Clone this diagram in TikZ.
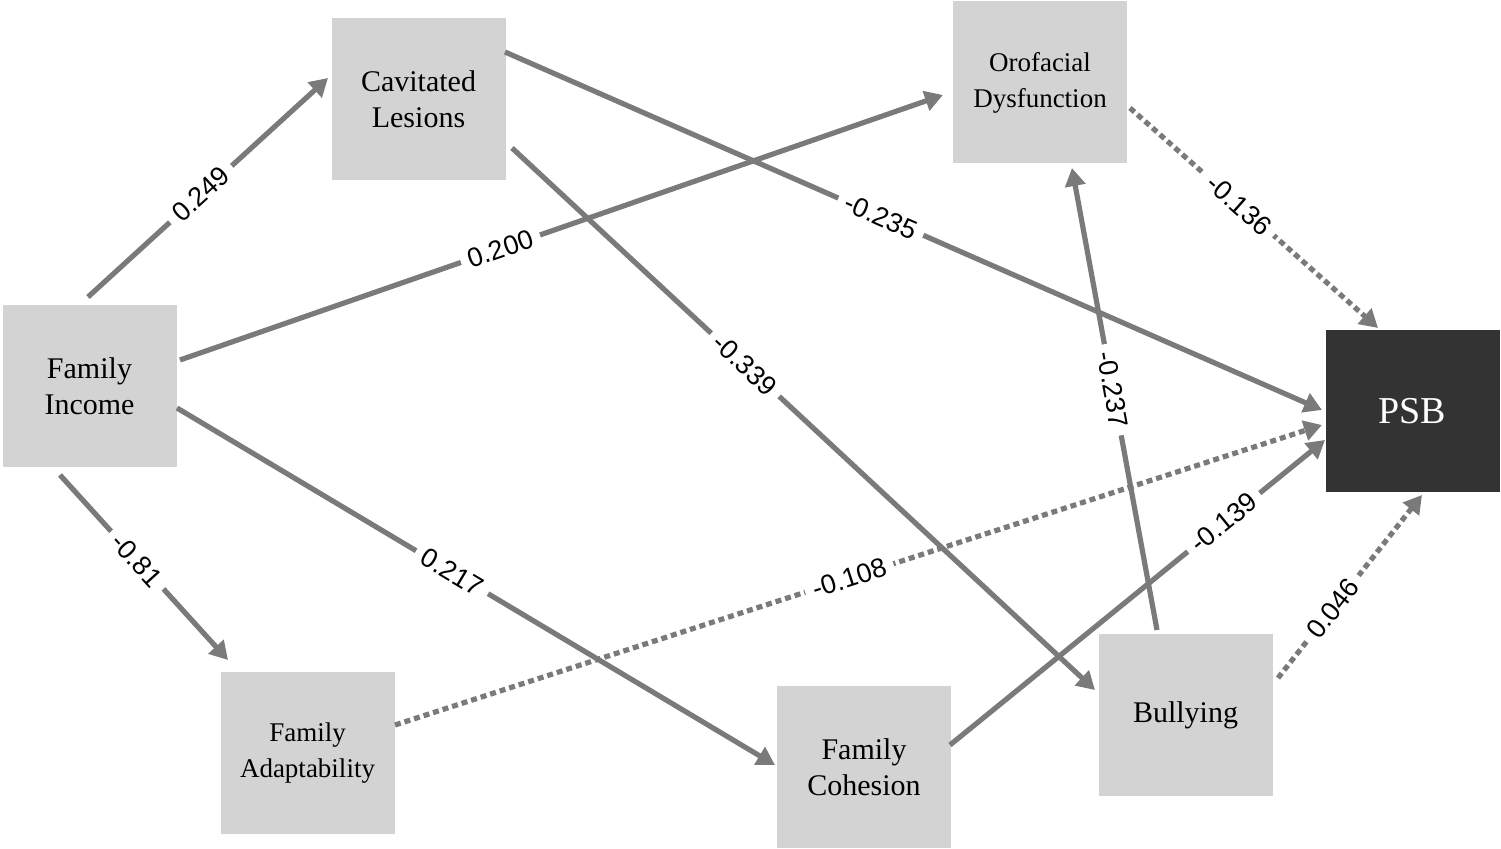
\documentclass[tikz,border=0pt]{standalone}
\usepackage{fontspec}
\setmainfont{Liberation Serif}
\newfontfamily\lab{Liberation Sans}
\usetikzlibrary{arrows.meta}
\definecolor{boxg}{HTML}{D3D3D3}
\definecolor{lineg}{HTML}{7A7A7A}
\begin{document}
\begin{tikzpicture}[x=0.5pt,y=-0.5pt,
  box/.style={fill=boxg,draw=none,minimum width=87pt,minimum height=81pt,align=center,font=\fontsize{15}{18}\selectfont,inner sep=0pt},
  arr/.style={draw=lineg,line width=2.6pt,-{Triangle[length=9pt,width=10pt]}},
  dot/.style={arr,dash pattern=on 3pt off 2pt},
  lbl/.style={fill=white,sloped,inner sep=4pt,font=\lab\fontsize{13.5}{14}\selectfont,text=black}]
\useasboundingbox (0,0) rectangle (1501,849);
\node[box] (cav) at (418.5,99) {Cavitated\\Lesions};
\node[box] (oro) at (1040,82.5) {\fontsize{13.5}{15}\selectfont Orofacial\\\fontsize{13.5}{15}\selectfont Dysfunction};
\node[box] (inc) at (89.5,386) {Family\\Income};
\node[box,fill=black!80,text=white,font=\fontsize{19}{20}\selectfont] (psb) at (1412.5,411) {PSB};
\node[box] (ada) at (307.5,753.5) {\fontsize{13.5}{15}\selectfont Family\\\fontsize{13.5}{15}\selectfont Adaptability};
\node[box] (coh) at (864,767) {Family\\Cohesion};
\node[box] (bul) at (1185.5,715) {Bullying};
\coordinate (a1) at (88,297); \coordinate (b1) at (328,78);
\coordinate (a2) at (180,360); \coordinate (b2) at (943,95);
\coordinate (a3) at (505,52); \coordinate (b3) at (1322,410);
\coordinate (a4) at (512,148); \coordinate (b4) at (1095,690);
\coordinate (a5) at (177,408); \coordinate (b5) at (775,765);
\coordinate (a6) at (60,475); \coordinate (b6) at (228,660);
\coordinate (a7) at (395,725); \coordinate (b7) at (1322,425);
\coordinate (a8) at (950,745); \coordinate (b8) at (1325,440);
\coordinate (a9) at (1157,630); \coordinate (b9) at (1072,168);
\coordinate (a10) at (1130,108); \coordinate (b10) at (1378,328);
\coordinate (a11) at (1278,678); \coordinate (b11) at (1422,495);
\draw[arr] (a1) -- node[lbl,pos=.47]{0.249} (b1);
\draw[arr] (a2) -- node[lbl,pos=.42]{0.200} (b2);
\draw[arr] (a3) -- node[lbl,pos=.46]{-0.235} (b3);
\draw[arr] (a4) -- node[lbl,pos=.40]{-0.339} (b4);
\draw[arr] (a5) -- node[lbl,pos=.46]{0.217} (b5);
\draw[arr] (a6) -- node[lbl,pos=.46]{-0.81} (b6);
\draw[dot] (a7) -- node[lbl,pos=.49]{-0.108} (b7);
\draw[arr] (a8) -- node[lbl,pos=.73]{-0.139} (b8);
\draw[arr] (a9) -- node[lbl,pos=.52]{-0.237} (b9);
\draw[dot] (a10) -- node[lbl,pos=.44]{-0.136} (b10);
\draw[dot] (a11) -- node[lbl,pos=.38]{0.046} (b11);
\end{tikzpicture}
\end{document}
